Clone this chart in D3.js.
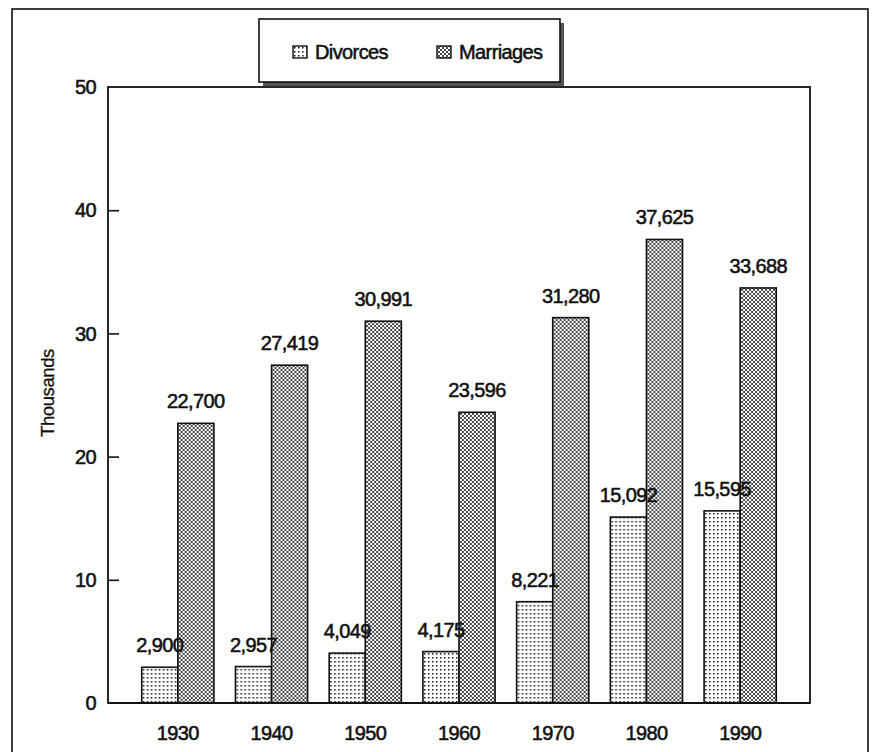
<!DOCTYPE html>
<html>
<head>
<meta charset="utf-8">
<script src="https://cdn.jsdelivr.net/npm/d3@7"></script>
<style>
  body { margin: 0; background: #fff; }
  text { font-family: "Liberation Sans", Arial, sans-serif; fill: #111; stroke: #111; stroke-width: 0.55px; }
</style>
</head>
<body>
<svg id="chart" width="872" height="752"></svg>
<script>
// data
const years = ['1930', '1940', '1950', '1960', '1970', '1980', '1990'];
const divorces = [2900, 2957, 4049, 4175, 8221, 15092, 15595];
const marriages = [22700, 27419, 30991, 23596, 31280, 37625, 33688];
const yTicks = [0, 10, 20, 30, 40, 50];
const seriesNames = ['Divorces', 'Marriages'];

const svg = d3.select('#chart');
const plot = { left: 108, right: 810, top: 87, bottom: 703 };

// fill patterns
const defs = svg.append('defs');
const pDiv = defs.append('pattern')
    .attr('id', 'pat-div')
    .attr('patternUnits', 'userSpaceOnUse')
    .attr('width', 4).attr('height', 4);
pDiv.append('rect').attr('width', 4).attr('height', 4).attr('fill', '#fff');
pDiv.append('rect').attr('x', 1).attr('y', 1).attr('width', 1.5).attr('height', 1.5).attr('fill', '#111');

const pMar = defs.append('pattern')
    .attr('id', 'pat-mar')
    .attr('patternUnits', 'userSpaceOnUse')
    .attr('width', 4).attr('height', 4);
pMar.append('rect').attr('width', 4).attr('height', 4).attr('fill', '#fff');
[[0, 0], [4, 0], [0, 4], [4, 4], [2, 2]].forEach(function (c) {
    pMar.append('circle').attr('cx', c[0]).attr('cy', c[1]).attr('r', 1.05).attr('fill', '#1a1a1a');
});

// outer frame
svg.append('rect')
    .attr('x', 12).attr('y', 9)
    .attr('width', 856).attr('height', 760)
    .attr('fill', 'none')
    .attr('stroke', '#111')
    .attr('stroke-width', 1.6);

const x = d3.scaleBand()
    .domain(years)
    .range([plot.left, plot.right])
    .paddingInner(0.23)
    .paddingOuter(0.36);

const xSub = d3.scaleBand()
    .domain(seriesNames)
    .range([0, x.bandwidth()]);

const y = d3.scaleLinear()
    .domain([0, 50])
    .range([plot.bottom, plot.top]);

// plot frame
svg.append('rect')
    .attr('x', plot.left).attr('y', plot.top)
    .attr('width', plot.right - plot.left)
    .attr('height', plot.bottom - plot.top)
    .attr('fill', 'none')
    .attr('stroke', '#111')
    .attr('stroke-width', 1.8);

// y axis, ticks point inward
const yAxis = d3.axisRight(y)
    .tickValues(yTicks.slice(1, -1))
    .tickSize(11)
    .tickFormat('');
svg.append('g')
    .attr('transform', 'translate(' + plot.left + ',0)')
    .call(yAxis)
    .call(g => g.select('.domain').remove())
    .selectAll('line').attr('stroke', '#111').attr('stroke-width', 1.6);

svg.append('g')
    .selectAll('text')
    .data(yTicks)
    .join('text')
    .attr('x', 96)
    .attr('y', d => y(d))
    .attr('dy', '0.36em')
    .attr('text-anchor', 'end')
    .attr('font-size', 20)
    .attr('letter-spacing', -0.6)
    .text(d => d);

svg.append('text')
    .attr('transform', 'translate(54,393) rotate(-90)')
    .attr('text-anchor', 'middle')
    .attr('font-size', 18.5)
    .attr('letter-spacing', -0.4)
    .style('stroke-width', '0.3px')
    .text('Thousands');

// year labels
svg.append('g')
    .selectAll('text')
    .data(years)
    .join('text')
    .attr('x', d => x(d) + x.bandwidth() / 2)
    .attr('y', 740)
    .attr('text-anchor', 'middle')
    .attr('font-size', 20)
    .attr('letter-spacing', -0.6)
    .text(d => d);

// bars
const rows = years.map(function (yr, i) {
    return { year: yr, values: [divorces[i], marriages[i]] };
});

const groups = svg.append('g')
    .selectAll('g')
    .data(rows)
    .join('g')
    .attr('transform', d => 'translate(' + x(d.year) + ',0)');

groups.selectAll('rect')
    .data(d => d.values.map((v, k) => ({ name: seriesNames[k], v: v })))
    .join('rect')
    .attr('x', d => xSub(d.name))
    .attr('y', d => y(d.v / 1000))
    .attr('width', xSub.bandwidth())
    .attr('height', d => y(0) - y(d.v / 1000))
    .attr('fill', d => d.name == 'Divorces' ? 'url(#pat-div)' : 'url(#pat-mar)')
    .attr('stroke', '#111')
    .attr('stroke-width', 1.6);

groups.selectAll('text')
    .data(d => d.values.map((v, k) => ({ name: seriesNames[k], v: v })))
    .join('text')
    .attr('x', d => xSub(d.name) + xSub.bandwidth() / 2)
    .attr('y', d => y(d.v / 1000) - 15)
    .attr('text-anchor', 'middle')
    .attr('font-size', 20)
    .attr('letter-spacing', -0.6)
    .text(d => d3.format(',')(d.v));

// redraw the baseline over the bars
svg.append('line')
    .attr('x1', plot.left).attr('x2', plot.right)
    .attr('y1', plot.bottom).attr('y2', plot.bottom)
    .attr('stroke', '#111').attr('stroke-width', 2);

// legend with drop shadow
const legend = svg.append('g').attr('transform', 'translate(259,19)');
legend.append('rect')
    .attr('x', 4).attr('y', 4)
    .attr('width', 301).attr('height', 63)
    .attr('fill', '#555');
legend.append('rect')
    .attr('width', 301).attr('height', 63)
    .attr('fill', '#fff')
    .attr('stroke', '#111')
    .attr('stroke-width', 1.6);

const legendX = [34, 178];
const items = legend.selectAll('g.item')
    .data(seriesNames)
    .join('g')
    .attr('class', 'item')
    .attr('transform', (d, i) => 'translate(' + legendX[i] + ',27)');
items.append('rect')
    .attr('width', 14).attr('height', 12)
    .attr('fill', d => d == 'Divorces' ? 'url(#pat-div)' : 'url(#pat-mar)')
    .attr('stroke', '#111')
    .attr('stroke-width', 1.4);
items.append('text')
    .attr('x', 22)
    .attr('y', 6)
    .attr('dy', '0.36em')
    .attr('font-size', 20)
    .attr('letter-spacing', -0.6)
    .text(d => d);
</script>
</body>
</html>
